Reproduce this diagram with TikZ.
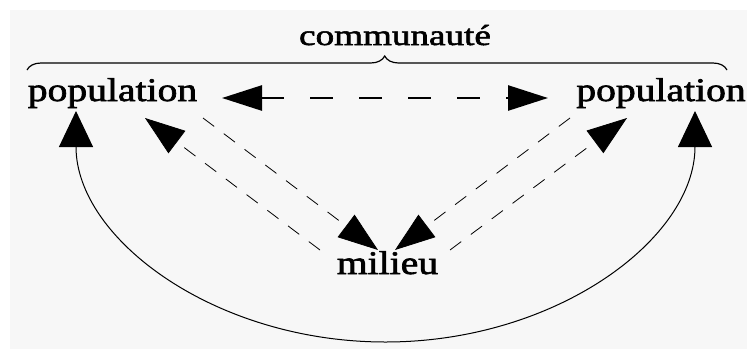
\documentclass[tikz,border=0pt]{standalone}
\usepackage{fontspec}
\setmainfont{Liberation Serif}
\newfontfamily\heavyserif{Liberation Serif}[FakeBold=1.8]
\usepackage{graphicx}
\usetikzlibrary{arrows.meta, positioning, calc, decorations.pathreplacing}
\definecolor{bggray}{RGB}{247,247,247}
\newcommand{\wide}[1]{\scalebox{1.2}[1]{#1}}
\tikzset{
  word/.style={inner sep=0pt, anchor=base,
    font=\fontsize{33}{34}\heavyserif},
  exchange/.style={{Triangle[length=40pt,width=25pt]}-{Triangle[length=40pt,width=25pt]},
    line width=2.6pt, dash pattern=on 23pt off 26pt},
  feed/.style={-{Triangle[length=40pt,width=28pt]}, line width=0.8pt,
    dash pattern=on 14pt off 12pt},
  arcarrow/.style={{Triangle[length=36pt,width=34pt]}-{Triangle[length=36pt,width=34pt]},
    line width=1pt},
  bracket/.style={decorate, decoration={brace, amplitude=14pt, aspect=0.511},
    line width=1.2pt}
}

\begin{document}
\begin{tikzpicture}[x=1pt, y=-1pt]
  \useasboundingbox (0,0) rectangle (747,349);
  \fill[bggray] (10,10) rectangle (747,349);

  \node[word] (popL) at (112.5,101) {\wide{population}};
  \node[word] (popR) at (661,101) {\wide{population}};
  \node[word] (milieu) at (387.5,274) {\wide{milieu}};
  \node[word, font=\fontsize{29}{30}\heavyserif] (comm) at (395,45) {\scalebox{1.28}[1]{communauté}};

  % brace under the community label
  \coordinate (braceL) at (27,70);
  \coordinate (braceR) at (727,70);
  \draw[bracket] (braceL) -- (braceR);

  % exchange between the two populations
  \draw[exchange] ([xshift=109.5pt,yshift=3pt]popL.base) -- ([xshift=-113pt,yshift=3pt]popR.base);

  % population <-> milieu
  \draw[feed] ([xshift=-67.5pt,yshift=24pt]milieu.base) -- ([xshift=32.5pt,yshift=-17pt]popL.base);
  \draw[feed] ([xshift=90.5pt,yshift=-17pt]popL.base) -- ([xshift=-9.5pt,yshift=24pt]milieu.base);
  \draw[feed] ([xshift=-91pt,yshift=-17pt]popR.base) -- ([xshift=7.5pt,yshift=24pt]milieu.base);
  \draw[feed] ([xshift=62.5pt,yshift=24pt]milieu.base) -- ([xshift=-34pt,yshift=-17pt]popR.base);

  % big arc underneath
  \coordinate (curveL) at ([xshift=-36.5pt,yshift=-10pt]popL.base);
  \coordinate (curveR) at ([xshift=34pt,yshift=-10pt]popR.base);
  \coordinate (curveB) at (385.5,342);
  \draw[arcarrow] (curveL) .. controls +(0,127.6) and +(-170.9,0) .. (curveB)
    .. controls +(170.9,0) and +(0,127.6) .. (curveR);
\end{tikzpicture}
\end{document}
